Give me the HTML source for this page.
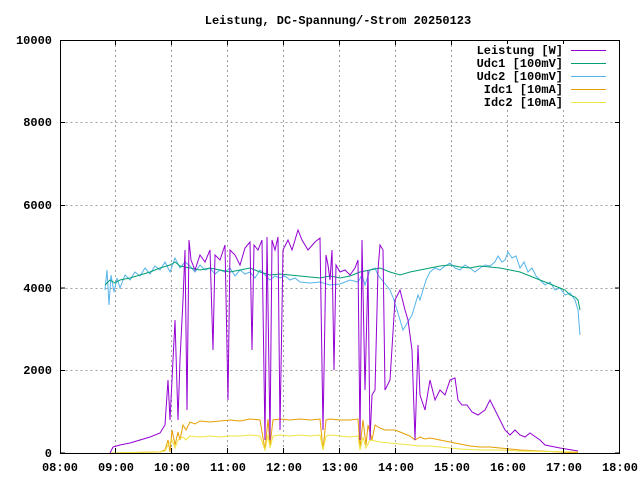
<!DOCTYPE html>
<html><head><style>body{margin:0;background:#fff}svg{display:block}text{font-family:"Liberation Mono",monospace;font-size:12px;font-weight:bold;fill:#000}</style></head><body>
<svg width="640" height="480" xmlns="http://www.w3.org/2000/svg">
<rect width="640" height="480" fill="#fff"/>
<text x="338" y="24" text-anchor="middle">Leistung, DC-Spannung/-Strom 20250123</text>
<g stroke="#a0a0a0" stroke-dasharray="2,3" stroke-width="1">
<path d="M60.5 370.5H619.5M60.5 288.5H619.5M60.5 205.5H619.5M60.5 122.5H619.5"/>
<path d="M115.5 40V453M171.5 40V453M227.5 40V453M283.5 40V453M339.5 40V453M395.5 40V453M451.5 40V453M507.5 40V453M563.5 40V453"/>
</g>
<g text-anchor="end">
<text x="52" y="457">0</text><text x="52" y="374">2000</text><text x="52" y="292">4000</text><text x="52" y="209">6000</text><text x="52" y="126">8000</text><text x="52" y="44">10000</text>
</g>
<g text-anchor="middle">
<text x="60" y="471">08:00</text><text x="116" y="471">09:00</text><text x="172" y="471">10:00</text><text x="228" y="471">11:00</text><text x="284" y="471">12:00</text><text x="340" y="471">13:00</text><text x="396" y="471">14:00</text><text x="452" y="471">15:00</text><text x="508" y="471">16:00</text><text x="564" y="471">17:00</text><text x="620" y="471">18:00</text>
</g>
<g fill="none" stroke-width="1">
<path stroke="#56b4e9" d="M105 290L107 270L109 305L111 275L114 292L117 278L120 288L125 275L130 280L135 272L140 276L145 268L150 274L155 266L160 270L165 262L170 272L175 258L180 268L185 262L190 266L195 272L200 265L205 270L210 268L215 274L220 270L225 272L230 268L235 276L240 270L245 274L250 272L255 278L260 270L265 275L270 280L275 276L280 278L285 276L290 280L295 278L300 282L310 283L320 282L330 285L340 284L350 280L358 282L362 275L365 285L370 270L375 268L378 275L382 280L386 285L390 290L394 300L397 310L400 320L403 330L406 325L409 320L412 315L415 305L418 295L420 300L423 290L426 280L430 272L435 268L440 270L445 266L450 263L455 268L460 270L465 265L470 268L475 272L480 268L485 265L490 266L495 262L498 256L502 262L505 260L508 252L512 258L516 256L520 268L524 262L528 272L532 268L536 276L540 280L545 285L550 282L555 290L560 288L565 295L570 293L575 300L578 310L580 335"/>
<path stroke="#009e73" d="M105 285L110 280L115 283L120 280L130 278L140 275L150 272L160 268L170 265L175 262L180 266L190 268L200 270L210 268L220 270L230 272L240 270L250 268L260 272L270 275L280 274L290 275L300 276L310 277L320 278L330 276L340 278L350 276L360 272L370 270L380 268L390 272L400 275L410 272L420 270L430 268L440 266L450 265L460 267L470 268L480 266L490 267L500 268L510 270L520 272L530 276L540 280L550 284L560 288L565 290L570 295L575 297L578 300L580 310"/>
<path stroke="#e69f00" d="M110 453L160 452L165 450L168 440L170 452L172 430L175 445L178 432L180 440L183 425L186 430L190 422L195 424L200 421L210 422L220 421L230 420L240 421L250 419L260 420L265 450L268 419L270 445L273 420L280 419L290 420L300 419L310 420L320 419L323 450L326 420L330 419L340 420L350 420L358 419L360 448L363 420L366 445L368 425L372 440L375 425L380 428L385 430L390 430L395 430L400 432L405 434L410 436L415 440L420 437L425 439L430 438L440 440L450 442L460 444L470 446L480 447L490 447L500 448L510 449L520 450L540 451L560 452L578 453"/>
<path stroke="#f0e442" d="M110 453L160 452L165 451L168 445L172 440L175 448L178 440L183 437L186 440L190 436L200 437L210 436L220 437L230 436L240 436L250 435L260 436L265 450L268 435L270 448L273 436L280 435L290 436L300 435L310 436L320 435L323 450L326 436L330 435L340 436L350 437L358 436L360 450L363 437L366 448L370 440L375 441L380 442L390 443L400 444L410 445L420 446L430 446L440 447L450 448L460 449L480 450L500 450L520 451L578 452"/>
<path stroke="#9400d3" d="M110 453L113 447L120 445L130 443L140 440L150 437L160 433L165 425L168 380L170 420L175 320L178 420L180 360L183 300L185 250L187 410L189 240L191 260L195 270L200 255L205 262L210 250L213 350L215 255L220 260L225 245L228 400L230 250L235 255L240 265L245 248L250 242L252 350L254 245L258 250L262 240L265 440L267 237L270 440L272 240L275 250L278 237L280 430L283 250L288 240L292 250L298 230L302 240L308 250L315 242L320 238L323 430L326 255L328 265L330 280L332 250L334 370L336 265L340 272L345 270L350 275L355 268L358 260L360 440L362 240L365 390L368 270L370 440L372 395L375 390L378 270L380 245L383 250L385 390L390 380L395 300L400 290L405 310L408 320L412 350L415 440L418 345L420 395L425 410L430 380L435 400L440 390L445 395L450 380L455 378L458 400L462 405L467 405L472 412L478 415L485 410L490 400L495 410L500 420L505 430L510 435L515 430L520 435L525 437L530 433L540 440L545 445L560 448L578 451"/>
</g>
<rect x="60.5" y="40.5" width="559" height="413" fill="none" stroke="#000"/>
<g stroke="#000"><path d="M60 453h5M60 370.5h5M60 288h5M60 205.5h5M60 122.5h5M620 453h-5M620 370.5h-5M620 288h-5M620 205.5h-5M620 122.5h-5"/>
<path d="M60.5 453v-5M115.5 453v-5M171.5 453v-5M227.5 453v-5M283.5 453v-5M339.5 453v-5M395.5 453v-5M451.5 453v-5M507.5 453v-5M563.5 453v-5M115.5 40v5M171.5 40v5M227.5 40v5M283.5 40v5M339.5 40v5M395.5 40v5M451.5 40v5M507.5 40v5M563.5 40v5"/></g>
<g text-anchor="end">
<rect x="470" y="44" width="100" height="64" fill="#fff"/>
<text x="563" y="54">Leistung [W]</text><text x="563" y="67">Udc1 [100mV]</text><text x="563" y="80">Udc2 [100mV]</text><text x="563" y="93">Idc1 [10mA]</text><text x="563" y="106">Idc2 [10mA]</text>
</g>
<g stroke-width="1"><path stroke="#9400d3" d="M571 50.5h35"/><path stroke="#009e73" d="M571 63.5h35"/><path stroke="#56b4e9" d="M571 76.5h35"/><path stroke="#e69f00" d="M571 89.5h35"/><path stroke="#f0e442" d="M571 102.5h35"/></g>
</svg>
</body></html>
